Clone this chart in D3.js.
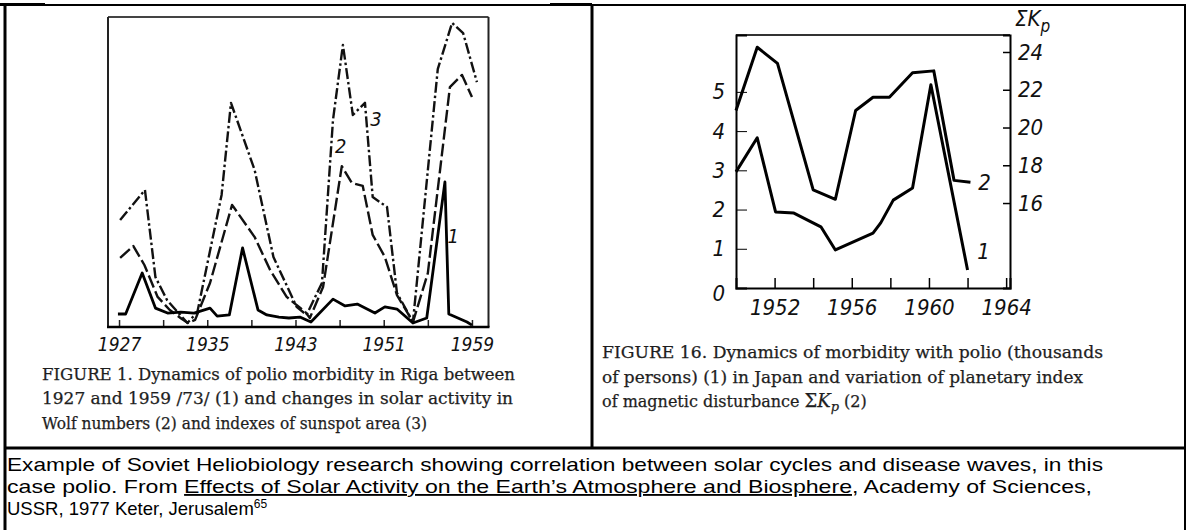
<!DOCTYPE html>
<html><head><meta charset="utf-8">
<script src="https://cdn.jsdelivr.net/npm/d3@7"></script>
<style>
html,body{margin:0;padding:0;background:#fff;}
svg{display:block;}
</style></head>
<body>
<svg id="c" width="1189" height="530"></svg>
<script>
// ---------- DATA ----------
// Figure 1 (Riga): vertices as [year, value in arbitrary index units 0..100]
const rigaPolio = [[1926.9,4.2],[1927.6,4.2],[1929.1,17.4],[1930.3,6.1],[1931.4,4.5],[1932.6,4.8],[1933.8,4.5],[1935.25,6.1],[1935.9,3.5],[1937.0,3.9],[1938.2,25.5],[1939.6,5.5],[1940.4,3.9],[1941.5,3.2],[1942.4,2.9],[1943.4,3.2],[1944.4,1.6],[1946.4,9.0],[1947.5,6.8],[1948.6,7.4],[1950.2,4.5],[1951.1,6.5],[1952.2,5.8],[1953.65,1.3],[1954.9,2.9],[1956.55,46.8],[1956.9,4.2],[1958.55,1.6],[1959.0,0.6]];
const rigaWolf = [[1927.1,22.3],[1928.3,26.1],[1929.3,20.0],[1930.5,9.7],[1931.6,5.5],[1932.7,2.6],[1933.25,1.3],[1933.9,2.3],[1935.25,14.2],[1937.25,39.4],[1939.3,29.0],[1940.7,18.4],[1942.2,9.7],[1943.9,4.8],[1944.3,2.9],[1945.5,12.9],[1947.2,51.9],[1948.1,46.5],[1949.1,45.5],[1950.0,29.7],[1951.1,22.6],[1952.2,10.3],[1953.65,1.6],[1955.0,17.4],[1957.0,77.4],[1958.1,81.3],[1959.0,74.2]];
const rigaSunspot = [[1927.1,34.5],[1929.35,44.2],[1930.3,16.1],[1931.35,8.7],[1933.2,1.3],[1934.1,4.8],[1936.3,42.6],[1937.15,72.3],[1939.3,50.6],[1941.0,22.6],[1943.1,6.5],[1944.0,3.9],[1945.4,14.2],[1946.4,66.8],[1947.3,91.0],[1948.2,68.4],[1949.3,72.3],[1950.0,41.9],[1951.3,38.7],[1952.2,11.0],[1953.65,1.6],[1955.9,83.2],[1957.2,98.1],[1958.2,94.8],[1959.45,79.0]];
const rigaTicks = [1927,1931,1935,1939,1943,1947,1951,1955,1959];
const rigaTickLabels = [1927,1935,1943,1951,1959];

// Figure 16 (Japan): polio (thousands of persons) and sum Kp
const japanPolio = [[1950.0,2.96],[1951.1,3.83],[1952.05,1.94],[1953.0,1.91],[1954.4,1.56],[1955.15,0.97],[1957.1,1.40],[1957.5,1.66],[1958.15,2.24],[1959.15,2.55],[1960.1,5.18],[1962.0,0.46]];
const japanKp = [[1950.0,20.9],[1951.1,24.25],[1952.15,23.4],[1954.0,16.7],[1955.15,16.2],[1956.2,20.9],[1957.1,21.6],[1957.95,21.6],[1959.15,22.9],[1960.25,23.0],[1961.3,17.2],[1962.15,17.1]];
const japanXTicks = [1952,1954,1956,1958,1960,1962];
const japanXLabels = [1952,1956,1960,1964];
const japanLeftTicks = [0,1,2,3,4,5];
const japanRightTicks = [16,18,20,22,24];

const caption1 = ["FIGURE 1.  Dynamics of polio morbidity in Riga between",
                  "1927 and 1959 /73/ (1)  and  changes in solar activity in",
                  "Wolf numbers  (2)  and indexes of sunspot area (3)"];
const caption16 = ["FIGURE 16.  Dynamics of morbidity with polio (thousands",
                   "of persons) (1) in Japan and variation of planetary index"];

// ---------- DRAW ----------
const svg = d3.select("#c");
svg.append("rect").attr("width",1189).attr("height",530).attr("fill","#fff");

const tech = "'Liberation Sans Narrow','DejaVu Sans Condensed','Liberation Sans',sans-serif";
const serif = "'DejaVu Serif','Liberation Serif',serif";

// table borders
const B = svg.append("g").attr("stroke","#000").attr("fill","none");
B.append("line").attr("x1",5).attr("x2",1185).attr("y1",5).attr("y2",5).attr("stroke-width",2);
B.append("line").attr("x1",0).attr("x2",45).attr("y1",4.5).attr("y2",4.5).attr("stroke-width",3);
B.append("line").attr("x1",550).attr("x2",592).attr("y1",4.5).attr("y2",4.5).attr("stroke-width",3);
B.append("line").attr("x1",5).attr("x2",5).attr("y1",4).attr("y2",530).attr("stroke-width",3);
B.append("line").attr("x1",592).attr("x2",592).attr("y1",4).attr("y2",448).attr("stroke-width",3);
B.append("line").attr("x1",4).attr("x2",1186).attr("y1",448).attr("y2",448).attr("stroke-width",3);
B.append("line").attr("x1",1185).attr("x2",1185).attr("y1",4).attr("y2",530).attr("stroke-width",2);

// ===== Left chart =====
const xL = d3.scaleLinear().domain([1926,1960.5]).range([108,488.5]);
const yL = d3.scaleLinear().domain([0,100]).range([327,17]);
const gL = svg.append("g");
gL.append("line").attr("x1",xL(1926)).attr("x2",xL(1960.5)).attr("y1",yL(100)).attr("y2",yL(100)).attr("stroke","#444").attr("stroke-width",2);
gL.append("line").attr("x1",xL(1926)).attr("x2",xL(1926)).attr("y1",yL(100)).attr("y2",yL(0)).attr("stroke","#222").attr("stroke-width",2);
gL.append("line").attr("x1",xL(1960.5)).attr("x2",xL(1960.5)).attr("y1",yL(100)).attr("y2",yL(0)).attr("stroke","#222").attr("stroke-width",2);
const axL = d3.axisBottom(xL).tickValues(rigaTicks).tickSize(-7).tickPadding(11)
  .tickFormat(d => rigaTickLabels.includes(d) ? String(d) : "");
const gax = gL.append("g").attr("transform",`translate(0,${yL(0)})`).call(axL);
gax.select(".domain").remove();
gax.append("line").attr("x1",xL(1926)-1).attr("x2",xL(1960.5)+1).attr("stroke","#000").attr("stroke-width",2.5);
gax.selectAll(".tick line").attr("stroke","#222").attr("stroke-width",1.5);
gax.selectAll(".tick text").attr("fill","#111").style("font-family",tech).style("font-style","italic").style("font-size","19px");

const lineL = d3.line().x(d=>xL(d[0])).y(d=>yL(d[1]));
gL.append("path").datum(rigaSunspot).attr("d",lineL).attr("fill","none").attr("stroke","#111").attr("stroke-width",2.4).attr("stroke-dasharray","11,3,2.5,3").attr("stroke-linejoin","round");
gL.append("path").datum(rigaWolf).attr("d",lineL).attr("fill","none").attr("stroke","#111").attr("stroke-width",2.4).attr("stroke-dasharray","13,4").attr("stroke-linejoin","round");
gL.append("path").datum(rigaPolio).attr("d",lineL).attr("fill","none").attr("stroke","#000").attr("stroke-width",2.8).attr("stroke-linejoin","round");

const lblL = [{t:"3",yr:1950.3,v:65},{t:"2",yr:1947.1,v:56},{t:"1",yr:1957.3,v:27}];
gL.selectAll(".sl").data(lblL).enter().append("text")
  .attr("x",d=>xL(d.yr)).attr("y",d=>yL(d.v)).attr("text-anchor","middle")
  .style("font-family",tech).style("font-style","italic").style("font-size","20px").attr("fill","#111").text(d=>d.t);

// caption 1
const capStyle = sel => sel.style("font-family",serif).style("font-size","16px").attr("fill","#1e1e1e")
  .attr("stroke","#1e1e1e").attr("stroke-width",0.25);
caption1.forEach((t,i)=>{
  const lens=[473,471,385];
  svg.append("text").attr("x",42).attr("y",380+i*24.3).attr("textLength",lens[i]).attr("lengthAdjust","spacingAndGlyphs")
    .call(capStyle).text(t);
});

// ===== Right chart =====
const xR = d3.scaleLinear().domain([1950,1964.2]).range([736,1010]);
const yR = d3.scaleLinear().domain([0,6.45]).range([288,35]);
const yK = d3.scaleLinear().domain([11.5,24.9]).range([288,35]);
const gR = svg.append("g");
gR.append("line").attr("x1",xR(1950)).attr("x2",xR(1964.2)).attr("y1",yR(6.45)).attr("y2",yR(6.45)).attr("stroke","#333").attr("stroke-width",2);
const axRL = d3.axisLeft(yR).tickValues(japanLeftTicks).tickSize(-11).tickPadding(11).tickFormat(d3.format("d"));
const gRL = gR.append("g").attr("transform",`translate(${xR(1950)},0)`).call(axRL);
gRL.select(".domain").attr("stroke","#000").attr("stroke-width",2);
gRL.selectAll(".tick").filter(d=>d===0).select("line").remove();
gRL.selectAll(".tick text").attr("fill","#111").style("font-family",tech).style("font-style","italic").style("font-size","22px");
gRL.selectAll(".tick").filter(d=>d===0).select("text").attr("dy","0.55em");

const axRR = d3.axisRight(yK).tickValues(japanRightTicks).tickSize(-7).tickPadding(8).tickFormat(d3.format("d"));
const gRR = gR.append("g").attr("transform",`translate(${xR(1964.2)},0)`).call(axRR);
gRR.select(".domain").attr("stroke","#000").attr("stroke-width",2);
gRR.selectAll(".tick line").attr("stroke-width",1.5);
gRR.selectAll(".tick text").attr("fill","#111").style("font-family",tech).style("font-style","italic").style("font-size","22px");

const axRB = d3.axisBottom(xR).tickValues(japanXTicks.concat([1964])).tickSize(-10).tickPadding(11)
  .tickFormat(d => japanXLabels.includes(d) ? String(d) : "");
const gRB = gR.append("g").attr("transform",`translate(0,${yR(0)})`).call(axRB);
gRB.select(".domain").attr("stroke","#000").attr("stroke-width",2);
gRB.selectAll(".tick line").attr("stroke-width",1.5);
gRB.selectAll(".tick text").attr("fill","#111").style("font-family",tech).style("font-style","italic").style("font-size","22px");

// Sigma Kp title
const st = gR.append("text").attr("x",1015).attr("y",26).attr("fill","#111")
  .style("font-family",tech).style("font-style","italic").style("font-size","22px");
st.append("tspan").text("ΣK");
st.append("tspan").attr("dy",6).style("font-size","17px").text("p");

const lineP = d3.line().x(d=>xR(d[0])).y(d=>yR(d[1]));
const lineK = d3.line().x(d=>xR(d[0])).y(d=>yK(d[1]));
gR.append("path").datum(japanKp).attr("d",lineK).attr("fill","none").attr("stroke","#000").attr("stroke-width",3).attr("stroke-linejoin","round");
gR.append("path").datum(japanPolio).attr("d",lineP).attr("fill","none").attr("stroke","#000").attr("stroke-width",3).attr("stroke-linejoin","round");
gR.append("text").attr("x",xR(1962.55)).attr("y",yK(16.7)).attr("fill","#111").style("font-family",tech).style("font-style","italic").style("font-size","22px").text("2");
gR.append("text").attr("x",xR(1962.5)).attr("y",yR(0.75)).attr("fill","#111").style("font-family",tech).style("font-style","italic").style("font-size","22px").text("1");

// caption 16
caption16.forEach((t,i)=>{
  const lens=[501,481];
  svg.append("text").attr("x",602).attr("y",358+i*24.5).attr("textLength",lens[i]).attr("lengthAdjust","spacingAndGlyphs")
    .call(capStyle).text(t);
});
const c3 = svg.append("text").attr("x",602).attr("y",407).call(capStyle);
c3.append("tspan").text("of magnetic disturbance  ");
c3.append("tspan").text("Σ").style("font-size","18px");
c3.append("tspan").text("K").style("font-style","italic").style("font-size","18px");
c3.append("tspan").attr("dy",4).style("font-style","italic").style("font-size","13px").text("p");
c3.append("tspan").attr("dy",-4).text(" (2)");

// ===== bottom text =====
const bf = "'Liberation Sans',Arial,sans-serif";
svg.append("text").attr("x",7).attr("y",471).attr("textLength",1096).attr("lengthAdjust","spacingAndGlyphs")
  .style("font-family",bf).style("font-size","18.5px").attr("fill","#000")
  .text("Example of Soviet Heliobiology research showing correlation between solar cycles and disease waves, in this");
const b2 = svg.append("text").attr("x",7).attr("y",493).attr("textLength",1085).attr("lengthAdjust","spacingAndGlyphs")
  .style("font-family",bf).style("font-size","18.5px").attr("fill","#000");
b2.append("tspan").text("case polio. From ");
b2.append("tspan").style("text-decoration","underline").text("Effects of Solar Activity on the Earth’s Atmosphere and Biosphere");
b2.append("tspan").text(", Academy of Sciences,");
const b3 = svg.append("text").attr("x",7).attr("y",515)
  .style("font-family",bf).style("font-size","18.5px").attr("fill","#000");
b3.append("tspan").text("USSR, 1977 Keter, Jerusalem");
b3.append("tspan").attr("dy",-7).style("font-size","12px").text("65");
</script>
</body></html>
